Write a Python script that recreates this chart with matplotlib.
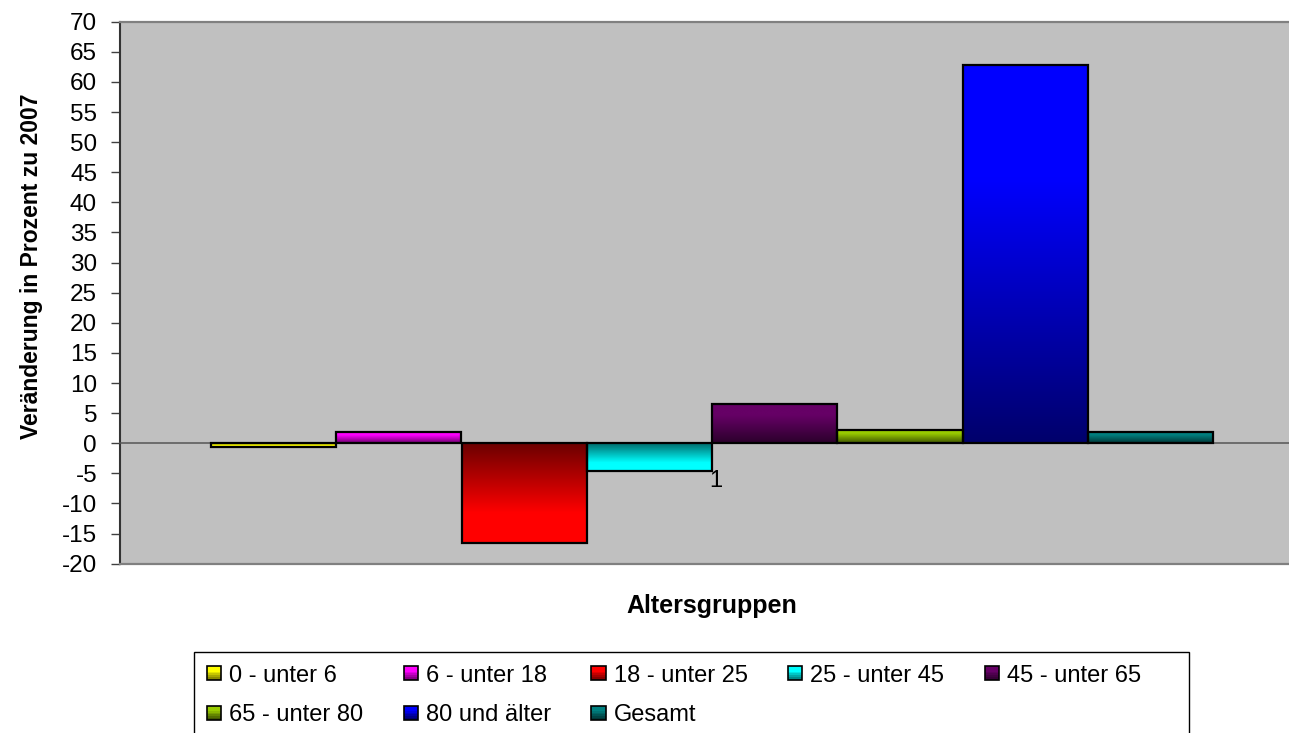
import numpy as np
import matplotlib
matplotlib.use("Agg")
import matplotlib.pyplot as plt
from matplotlib.patches import Rectangle
from matplotlib.legend_handler import HandlerBase
from matplotlib.colors import to_rgb

# ---- data ----
categories = ["1"]
series_labels = ["0 - unter 6", "6 - unter 18", "18 - unter 25", "25 - unter 45",
                 "45 - unter 65", "65 - unter 80", "80 und älter", "Gesamt"]
series_values = [-0.7, 1.9, -16.5, -4.6, 6.5, 2.2, 62.8, 1.9]
series_colors = ["#FFFF00", "#FF00FF", "#FF0000", "#00FFFF",
                 "#660066", "#99CC00", "#0000FF", "#008080"]
y_ticks = list(range(-20, 75, 5))
y_label = "Veränderung in Prozent zu 2007"
x_label = "Altersgruppen"

plt.rcParams['font.family'] = ['Liberation Sans', 'DejaVu Sans']

W, H = 1289, 733
fig = plt.figure(figsize=(W / 100, H / 100), dpi=100)
ax_left, ax_right = 120, 1304
ax_top, ax_bot = 21.7, 563.7
ax = fig.add_axes([ax_left / W, 1 - ax_bot / H, (ax_right - ax_left) / W, (ax_bot - ax_top) / H])
ax.set_facecolor("#C0C0C0")

n = len(series_values)
positions = np.arange(n) - (n - 1) / 2.0
DARK = 0.42


def grad_color(color, s):
    c = np.array(to_rgb(color))
    f = np.clip(s / 0.7, 0, 1)
    return c * DARK + (c - c * DARK) * f


bars = ax.bar(positions, series_values, width=1.0, facecolor="none",
              edgecolor="black", linewidth=1.6, zorder=4)

N = 256
for rect, val, col in zip(bars, series_values, series_colors):
    s = np.linspace(1, 0, N) if val >= 0 else np.linspace(0, 1, N)
    img = np.array([grad_color(col, si) for si in s])[:, None, :]
    x0 = rect.get_x()
    x1 = x0 + rect.get_width()
    y0, y1 = min(0, val), max(0, val)
    im = ax.imshow(img, extent=(x0, x1, y0, y1), origin="upper", aspect="auto",
                   interpolation="bilinear", zorder=3)
    clip = Rectangle((x0, y0), x1 - x0, y1 - y0, transform=ax.transData)
    im.set_clip_path(clip)

half = (ax_right - ax_left) / 2 / 125.25
ax.set_xlim(-half, half)
ax.set_ylim(-20, 70)
ax.set_yticks(y_ticks)
ax.set_yticklabels([str(t) for t in y_ticks], fontsize=17.5)
ax.tick_params(axis="y", direction="out", length=6.5, width=1.0, color="#404040", pad=10)

# category axis at zero
ax.spines['bottom'].set_position(('data', 0))
ax.spines['bottom'].set_color("#555555")
ax.spines['bottom'].set_linewidth(1.1)
ax.spines['bottom'].set_zorder(2.5)
ax.set_xticks([0])
ax.set_xticklabels([])
ax.tick_params(axis="x", length=0)
ax.annotate(categories[0], xy=(0, 0), xytext=(2.5, -19), textcoords="offset points",
            ha="center", va="top", fontsize=17, zorder=6)

ax.spines['left'].set_color("#333333")
ax.spines['left'].set_linewidth(1.5)
ax.spines['top'].set_color("#808080")
ax.spines['top'].set_linewidth(1.6)
ax.spines['right'].set_visible(False)
ax.axhline(-20, color="#808080", linewidth=1.6, clip_on=False, zorder=5)

ax.set_ylabel(y_label, fontsize=16.5, fontweight="bold")
ax.yaxis.label.set_va("center")
ax.yaxis.set_label_coords((32 - ax_left) / (ax_right - ax_left), (ax_bot - 266) / (ax_bot - ax_top))

ax.set_xlabel(x_label, fontsize=18, fontweight="bold")
ax.xaxis.label.set_va("center")
ax.xaxis.set_label_coords(0.5, -(606 - ax_bot) / (ax_bot - ax_top))


# ---- legend with gradient squares ----
class GradProxy:
    def __init__(self, color):
        self.color = color


class GradHandler(HandlerBase):
    def create_artists(self, legend, orig_handle, xdescent, ydescent, width, height,
                       fontsize, trans):
        size = min(width, height)
        x0 = -xdescent + (width - size) / 2
        y0 = -ydescent + (height - size) / 2
        arts = []
        k = 8
        for i in range(k):
            s = 1 - i / (k - 1)  # top bright
            c = grad_color(orig_handle.color, s)
            r = Rectangle((x0, y0 + size - (i + 1) * size / k), size, size / k,
                          facecolor=c, edgecolor="none", transform=trans)
            arts.append(r)
        arts.append(Rectangle((x0, y0), size, size, facecolor="none",
                              edgecolor="black", linewidth=1.2, transform=trans))
        return arts


proxies = [GradProxy(c) for c in series_colors]
order = [0, 5, 1, 6, 2, 7, 3, 4]
leg_left, leg_top, leg_right, leg_bottom = 194, 651.7, 1189, 740
leg = fig.legend([proxies[i] for i in order], [series_labels[i] for i in order],
                 handler_map={GradProxy: GradHandler()},
                 loc="upper left",
                 bbox_to_anchor=(leg_left / W, 1 - leg_top / H),
                 ncol=5, fontsize=17,
                 handlelength=0.6, handleheight=0.6, handletextpad=0.35,
                 columnspacing=1.7,
                 labelspacing=0.73, borderpad=0.55, borderaxespad=0,
                 frameon=False)
fig.patches.append(Rectangle((leg_left / W, 1 - leg_bottom / H),
                             (leg_right - leg_left) / W, (leg_bottom - leg_top) / H,
                             transform=fig.transFigure, facecolor="white",
                             edgecolor="black", linewidth=1.0, zorder=0))

fig.savefig("out.png", dpi=100)
